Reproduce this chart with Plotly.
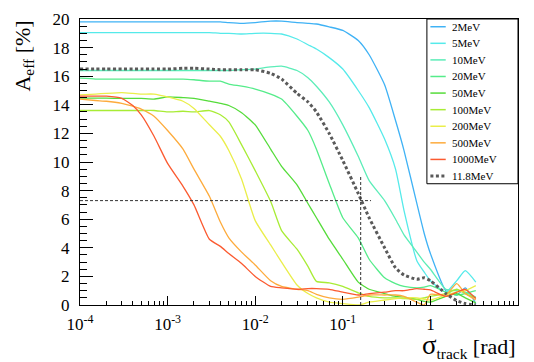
import plotly.graph_objects as go

# track angular resolution grid [rad]
sigma = [1e-4, 1.5e-4, 2e-4, 3e-4, 4e-4, 5e-4, 7e-4, 1e-3, 1.5e-3, 2e-3, 3e-3, 4e-3, 5e-3, 7e-3,
         1e-2, 1.5e-2, 2e-2, 3e-2, 4e-2, 5e-2, 7e-2, 0.1, 0.15, 0.2, 0.3, 0.4, 0.5, 0.7, 0.85,
         1.0, 1.5, 2.0, 2.5, 3.3]

# effective area [%] per energy
a_2mev = [19.8, 19.8, 19.8, 19.8, 19.8, 19.8, 19.8, 19.8, 19.8, 19.8, 19.8, 19.8, 19.75, 19.7,
          19.75, 19.85, 19.85, 19.75, 19.7, 19.65, 19.45, 19.2, 18.5, 17.5, 15.4, 12.9, 10.8, 7.1, 5.0,
          3.6, 1.0, 0.7, 1.2, 0.1]
a_5mev = [19.05, 19.05, 19.05, 19.05, 19.05, 19.05, 19.05, 19.05, 19.05, 19.05, 19.05, 19.0, 19.0, 18.95,
          19.0, 19.0, 18.95, 18.6, 18.2, 17.9, 17.3, 16.5, 15.0, 13.8, 11.6, 9.5, 6.6, 3.1, 2.3,
          1.7, 0.9, 1.7, 2.4, 1.6]
a_10mev = [16.4, 16.4, 16.4, 16.4, 16.4, 16.4, 16.4, 16.4, 16.4, 16.4, 16.4, 16.4, 16.4, 16.45,
           16.5, 16.65, 16.7, 16.4, 15.9, 15.3, 14.2, 12.6, 10.4, 8.7, 7.3, 6.0, 4.9, 3.7, 3.0,
           2.5, 1.1, 1.0, 0.9, 0.55]
a_20mev = [15.86, 15.8, 15.8, 15.8, 15.8, 15.8, 15.8, 15.8, 15.8, 15.75, 15.65, 15.65, 15.45, 15.3,
           15.1, 14.75, 14.4, 13.2, 12.2, 10.9, 8.5, 6.1, 4.7, 3.2, 1.9, 1.5, 1.3, 1.2, 1.25,
           1.35, 0.9, 0.7, 0.8, 1.0]
a_50mev = [14.46, 14.46, 14.46, 14.45, 14.45, 14.45, 14.4, 14.55, 14.5, 14.45, 14.25, 14.1, 13.95, 13.45,
           12.6, 10.9, 9.7, 8.4, 7.1, 6.1, 4.6, 3.2, 1.6, 1.1, 0.8, 0.6, 0.55, 0.4, 0.25,
           0.2, 0.6, 0.8, 0.5, 0.15]
a_100mev = [13.6, 13.6, 13.6, 13.6, 13.6, 13.6, 13.6, 13.5, 13.55, 13.5, 13.6, 13.3, 12.8, 11.2,
            9.4, 7.25, 5.2, 3.9, 2.7, 1.65, 1.55, 1.3, 0.85, 0.6, 0.5, 0.5, 0.45, 0.4, 0.5,
            0.6, 0.8, 1.1, 0.8, 0.5]
a_200mev = [14.7, 14.75, 14.8, 14.85, 14.8, 14.75, 14.75, 14.55, 14.25, 13.75, 12.6, 11.8, 10.8, 8.8,
            5.9, 4.2, 3.0, 1.4, 0.8, 0.5, 0.2, 0.1, 0.0, 0.2, 0.35, 0.45, 0.5, 0.5, 0.4,
            0.35, 0.7, 0.9, 1.0, 1.35]
a_500mev = [14.4, 14.3, 14.25, 14.1, 13.9, 13.7, 13.2, 12.2, 10.9, 9.5, 7.6, 5.8, 4.7, 3.7,
            2.8, 1.7, 1.3, 1.1, 1.0, 0.75, 0.5, 0.4, 0.55, 0.7, 0.7, 0.7, 0.6, 0.2, 0.0,
            0.75, 0.7, 1.5, 0.8, 0.35]
a_1000mev = [14.6, 14.6, 14.6, 14.45, 13.95, 13.3, 11.8, 9.9, 8.3, 7.0, 4.6, 4.1, 3.6, 2.9,
             2.0, 1.3, 1.2, 1.1, 1.15, 1.15, 1.1, 0.9, 0.7, 0.8, 0.9, 1.0, 1.0, 1.15, 1.1,
             1.05, 0.6, 0.9, 1.1, 0.45]
a_11_8mev = [16.5, 16.5, 16.5, 16.5, 16.5, 16.5, 16.5, 16.5, 16.55, 16.55, 16.5, 16.45, 16.45, 16.45,
             16.45, 16.2, 15.8, 14.8, 14.2, 13.5, 12.0, 10.1, 7.8, 6.1, 4.0, 2.6, 2.1, 1.8, 1.9,
             1.7, 0.8, 0.3, 0.1, 0.0]

names = ["2MeV", "5MeV", "10MeV", "20MeV", "50MeV", "100MeV", "200MeV", "500MeV", "1000MeV"]
series = [a_2mev, a_5mev, a_10mev, a_20mev, a_50mev, a_100mev, a_200mev, a_500mev, a_1000mev]
colors = ["#3fb2f5", "#55eaea", "#5cedb8", "#55ec8a", "#55dc3a", "#a8ec35", "#eaee4a", "#fdab3c", "#fb5a30"]

# reference marker: A_eff = 7.3 % at sigma = 0.16 rad
ref_level = 7.3
ref_sigma = 0.16
ref_hline_end = 0.21
ref_vline_top = 9.0

x_major = [1e-4, 1e-3, 1e-2, 1e-1, 1]
x_major_text = ["10<sup>-4</sup>", "10<sup>-3</sup>", "10<sup>-2</sup>", "10<sup>-1</sup>", "1"]
x_minor = [m * d for d in [1e-4, 1e-3, 1e-2, 1e-1, 1] for m in range(2, 10)]

FONT = "Liberation Serif"
DOTS = "3px,2.5px"

fig = go.Figure()

for name, y, c in zip(names, series, colors):
    fig.add_trace(go.Scatter(x=sigma, y=y, name=name, mode="lines", showlegend=False,
                             line=dict(color=c, width=1.3, shape="spline", smoothing=0.5)))

fig.add_trace(go.Scatter(x=sigma, y=a_11_8mev, name="11.8MeV", mode="lines", showlegend=False,
                         line=dict(color="#5a5a5a", width=3, dash=DOTS, shape="spline", smoothing=0.5)))

# dashed guide lines
fig.add_trace(go.Scatter(x=[1e-4, ref_hline_end], y=[ref_level, ref_level], mode="lines",
                         line=dict(color="#333333", width=1, dash="3px,2px"), showlegend=False))
fig.add_trace(go.Scatter(x=[ref_sigma, ref_sigma], y=[0, ref_vline_top], mode="lines",
                         line=dict(color="#333333", width=1, dash="3px,2px"), showlegend=False))

fig.update_layout(
    width=534, height=362,
    margin=dict(l=80, r=16, t=10, b=57),
    paper_bgcolor="white", plot_bgcolor="white",
    font=dict(family=FONT, color="black"),
    showlegend=False,
)

fig.update_xaxes(type="log", range=[-4, 1], showgrid=False, zeroline=False,
                 showline=True, mirror=True, linecolor="black", linewidth=1,
                 tickmode="array", tickvals=x_major, ticktext=x_major_text,
                 ticks="inside", ticklen=9, tickcolor="black",
                 tickfont=dict(family=FONT, size=17), ticklabelstandoff=4,
                 minor=dict(tickmode="array", tickvals=x_minor, ticks="inside", ticklen=4, tickcolor="black"))

fig.update_yaxes(range=[0, 20], showgrid=False, zeroline=False,
                 showline=True, mirror=True, linecolor="black", linewidth=1,
                 tickmode="linear", tick0=0, dtick=2,
                 ticks="inside", ticklen=13, tickcolor="black",
                 tickfont=dict(family=FONT, size=17), ticklabelstandoff=6,
                 minor=dict(dtick=0.5, ticks="inside", ticklen=7, tickcolor="black"))

# ROOT-style legend box in the top right corner
leg_x0, leg_x1, leg_y0, leg_y1 = 0.792, 1.0, 0.424, 1.0
fig.add_shape(type="rect", xref="paper", yref="paper", x0=leg_x0, x1=leg_x1, y0=leg_y0, y1=leg_y1,
              line=dict(color="black", width=1), fillcolor="white", layer="above")
leg_names = names + ["11.8MeV"]
leg_colors = colors + ["#5a5a5a"]
for i, (n, c) in enumerate(zip(leg_names, leg_colors)):
    yy = 0.973 - i * 0.058
    dotted = n == "11.8MeV"
    fig.add_shape(type="line", xref="paper", yref="paper", x0=0.800, x1=0.835, y0=yy, y1=yy,
                  line=dict(color=c, width=3 if dotted else 1.5, dash=DOTS if dotted else "solid"),
                  layer="above")
    fig.add_annotation(text=n, xref="paper", yref="paper", x=0.845, y=yy, xanchor="left", yanchor="middle",
                       showarrow=False, font=dict(family=FONT, size=11))

# axis titles, ROOT style (flush to the end of each axis)
fig.add_annotation(text="<span style='font-size:27px'>σ</span><sub>track</sub> [rad]",
                   xref="paper", yref="paper", x=1, y=-0.08, xanchor="right", yanchor="top",
                   showarrow=False, font=dict(family=FONT, size=22))
fig.add_annotation(text="A<sub>eff</sub> [%]", textangle=-90,
                   xref="paper", yref="paper", x=-0.13, y=1.0, xanchor="center", yanchor="top",
                   showarrow=False, font=dict(family=FONT, size=22))

fig.write_html("out.html", config={"displayModeBar": False},
               post_script="document.body.style.margin='0';")
